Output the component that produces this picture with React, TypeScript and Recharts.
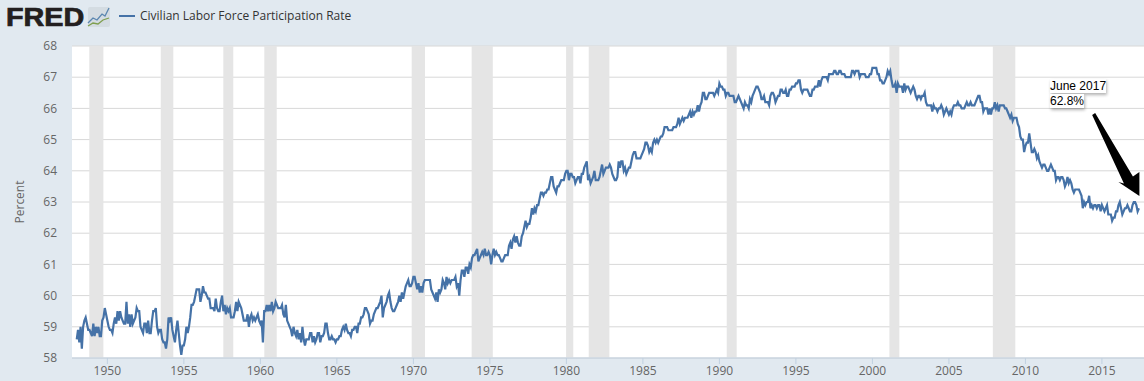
import { CartesianGrid, Line, LineChart, ReferenceArea, ReferenceLine, XAxis, YAxis } from "recharts";

// monthly rate, starting January 1948
const rate1940s = [
  58.6, 58.9, 58.5, 59.0, 58.3, 59.0, 59.2, 59.3, 59.1, 58.9, 58.9, 58.8,
  58.7, 59.1, 58.7, 59.0, 58.8, 59.0, 58.7, 58.7, 59.2, 59.3, 59.6, 59.4,
];
const rate1950s = [
  59.2, 59.0, 58.9, 58.9, 58.8, 59.1, 59.3, 59.1, 59.5, 59.2, 59.5, 59.3,
  59.2, 59.1, 59.1, 59.8, 59.1, 59.4, 59.0, 59.4, 59.1, 59.2, 59.3, 59.6,
  59.5, 59.5, 59.0, 58.9, 58.8, 59.1, 59.1, 58.8, 59.2, 58.8, 58.8, 59.2,
  59.5, 59.5, 59.6, 59.0, 58.8, 58.9, 58.9, 58.6, 58.5, 58.5, 58.3, 58.6,
  59.3, 59.2, 59.3, 58.9, 58.7, 58.5, 58.9, 59.2, 58.8, 58.4, 58.1, 58.4,
  58.4, 58.6, 59.0, 58.8, 59.0, 59.3, 59.7, 59.7, 59.8, 60.0, 60.2, 60.2,
  60.2, 59.8, 60.0, 60.3, 60.1, 60.1, 60.0, 59.9, 59.9, 59.6, 59.6, 59.6,
  59.5, 59.9, 59.6, 59.5, 59.5, 59.8, 60.0, 59.5, 59.7, 59.4, 59.6, 59.5,
  59.6, 59.3, 59.3, 59.3, 59.5, 59.8, 59.5, 59.8, 59.7, 59.6, 59.4, 59.2,
  59.2, 59.2, 59.4, 59.0, 59.3, 59.4, 59.2, 59.3, 59.2, 59.3, 59.4, 59.2,
];
const rate1960s = [
  59.1, 59.2, 58.5, 59.5, 59.5, 59.7, 59.5, 59.7, 59.5, 59.8, 59.5, 59.6,
  59.8, 59.7, 59.6, 59.6, 59.6, 59.7, 59.4, 59.3, 59.7, 59.2, 59.1, 59.0,
  58.9, 58.7, 59.0, 58.8, 58.7, 58.9, 58.6, 58.8, 58.5, 59.0, 58.6, 58.4,
  58.6, 58.6, 58.6, 58.8, 58.8, 58.5, 58.7, 58.5, 58.6, 58.8, 58.8, 58.5,
  58.7, 58.7, 58.8, 59.1, 59.1, 58.8, 58.6, 58.6, 58.7, 58.6, 58.6, 58.5,
  58.6, 58.6, 58.7, 58.7, 58.9, 59.0, 58.9, 59.1, 58.9, 58.8, 58.8, 58.7,
  58.9, 58.9, 59.0, 59.0, 58.8, 59.1, 59.1, 59.3, 59.3, 59.4, 59.6, 59.6,
  59.5, 59.4, 59.1, 59.2, 59.2, 59.4, 59.5, 59.6, 59.6, 59.7, 59.8, 60.0,
  59.3, 59.6, 59.7, 59.8, 60.0, 60.1, 59.8, 59.6, 59.5, 59.5, 59.6, 59.7,
  59.8, 60.0, 59.8, 60.1, 59.9, 60.1, 60.3, 60.4, 60.5, 60.3, 60.3, 60.4,
];
const rate1970s = [
  60.6, 60.6, 60.4, 60.2, 60.4, 60.1, 60.3, 60.1, 60.4, 60.5, 60.5, 60.5,
  60.5, 60.5, 60.2, 60.1, 60.0, 59.9, 60.1, 59.8, 60.2, 60.1, 60.2, 60.5,
  60.4, 60.2, 60.6, 60.4, 60.5, 60.4, 60.5, 60.5, 60.5, 60.6, 60.3, 60.4,
  60.0, 60.5, 60.8, 60.8, 60.6, 60.9, 60.9, 60.7, 61.0, 60.9, 61.2, 61.3,
  61.3, 61.4, 61.5, 61.1, 61.2, 61.3, 61.4, 61.3, 61.5, 61.3, 61.3, 61.4,
  61.3, 61.0, 61.3, 61.5, 61.3, 61.4, 61.3, 61.3, 61.2, 61.1, 61.1, 61.2,
  61.3, 61.3, 61.3, 61.6, 61.7, 61.5, 61.8, 61.9, 61.7, 61.9, 61.7, 61.6,
  61.6, 61.9, 62.0, 62.2, 62.4, 62.2, 62.3, 62.3, 62.5, 62.8, 62.6, 62.8,
  62.7, 62.9, 62.9, 63.1, 63.3, 63.3, 63.2, 63.3, 63.3, 63.4, 63.4, 63.6,
  63.8, 63.8, 63.5, 63.4, 63.3, 63.5, 63.5, 63.6, 63.7, 63.7, 63.7, 63.9,
];
const rate1980s = [
  64.0, 64.0, 63.7, 63.9, 63.9, 63.8, 63.8, 63.6, 63.7, 63.8, 63.8, 63.6,
  63.9, 63.9, 64.1, 64.2, 64.3, 63.7, 63.8, 63.6, 63.7, 63.8, 64.0, 63.7,
  63.7, 63.7, 63.8, 64.0, 64.2, 63.9, 64.0, 64.1, 64.1, 64.1, 64.2, 64.1,
  63.9, 63.8, 63.7, 63.7, 63.8, 64.3, 64.1, 64.3, 64.3, 64.0, 64.1, 63.9,
  64.0, 64.1, 64.1, 64.3, 64.5, 64.6, 64.6, 64.4, 64.4, 64.4, 64.4, 64.5,
  64.6, 64.7, 64.9, 64.9, 64.8, 64.6, 64.7, 64.6, 64.9, 65.0, 64.9, 65.0,
  64.9, 65.0, 65.1, 65.1, 65.2, 65.4, 65.4, 65.4, 65.3, 65.3, 65.3, 65.3,
  65.4, 65.4, 65.4, 65.5, 65.7, 65.5, 65.6, 65.7, 65.6, 65.7, 65.7, 65.7,
  65.8, 65.9, 65.7, 65.9, 65.8, 65.9, 65.9, 66.1, 65.9, 66.1, 66.2, 66.5,
  66.5, 66.3, 66.3, 66.4, 66.5, 66.5, 66.5, 66.5, 66.4, 66.5, 66.6, 66.5,
];
const rate1990s = [
  66.8, 66.7, 66.7, 66.6, 66.6, 66.4, 66.5, 66.5, 66.4, 66.4, 66.4, 66.4,
  66.2, 66.2, 66.3, 66.4, 66.3, 66.2, 66.1, 66.0, 66.2, 66.1, 66.1, 66.0,
  66.3, 66.2, 66.4, 66.5, 66.6, 66.7, 66.7, 66.6, 66.5, 66.3, 66.3, 66.4,
  66.2, 66.2, 66.2, 66.1, 66.4, 66.5, 66.5, 66.4, 66.2, 66.3, 66.4, 66.4,
  66.6, 66.6, 66.5, 66.5, 66.6, 66.4, 66.4, 66.6, 66.6, 66.7, 66.7, 66.7,
  66.8, 66.8, 66.9, 66.9, 66.6, 66.5, 66.6, 66.6, 66.6, 66.6, 66.5, 66.4,
  66.4, 66.6, 66.6, 66.7, 66.7, 66.7, 66.9, 66.7, 66.9, 67.0, 67.0, 67.0,
  67.0, 66.9, 67.1, 67.1, 67.1, 67.1, 67.2, 67.2, 67.1, 67.1, 67.2, 67.2,
  67.1, 67.1, 67.1, 67.0, 67.0, 67.0, 67.0, 67.0, 67.2, 67.2, 67.1, 67.2,
  67.2, 67.2, 67.0, 67.1, 67.1, 67.1, 67.1, 67.0, 67.0, 67.0, 67.1, 67.1,
];
const rate2000s = [
  67.3, 67.3, 67.3, 67.3, 67.1, 67.1, 66.9, 66.9, 66.8, 66.8, 66.9, 67.0,
  67.2, 67.1, 67.2, 66.9, 66.7, 66.7, 66.8, 66.5, 66.8, 66.7, 66.7, 66.7,
  66.5, 66.8, 66.6, 66.7, 66.7, 66.6, 66.5, 66.6, 66.7, 66.6, 66.4, 66.3,
  66.4, 66.4, 66.3, 66.4, 66.4, 66.5, 66.2, 66.1, 66.1, 66.1, 66.1, 65.9,
  66.1, 66.0, 66.0, 65.9, 66.0, 66.0, 66.1, 66.0, 65.8, 65.9, 66.0, 65.9,
  65.8, 65.9, 65.8, 66.0, 66.1, 66.1, 66.1, 66.2, 66.1, 66.1, 66.0, 66.0,
  66.0, 66.1, 66.2, 66.1, 66.1, 66.2, 66.1, 66.1, 66.1, 66.2, 66.3, 66.4,
  66.4, 66.2, 66.2, 65.9, 66.0, 66.0, 66.0, 65.8, 66.0, 65.8, 66.0, 66.0,
  66.2, 66.0, 66.1, 65.9, 66.1, 66.1, 66.1, 66.1, 66.0, 66.0, 65.9, 65.8,
  65.7, 65.8, 65.6, 65.7, 65.7, 65.7, 65.5, 65.4, 65.1, 65.0, 65.0, 64.6,
];
const rate2010s = [
  64.8, 64.9, 64.9, 65.2, 64.9, 64.6, 64.6, 64.7, 64.6, 64.4, 64.5, 64.3,
  64.2, 64.1, 64.2, 64.2, 64.1, 64.0, 64.0, 64.1, 64.2, 64.1, 64.0, 64.0,
  63.7, 63.8, 63.8, 63.7, 63.8, 63.8, 63.7, 63.5, 63.6, 63.8, 63.6, 63.7,
  63.6, 63.4, 63.3, 63.4, 63.4, 63.4, 63.4, 63.3, 63.2, 62.8, 63.0, 62.9,
  63.0, 63.0, 63.2, 62.8, 62.9, 62.8, 62.9, 62.9, 62.8, 62.9, 62.9, 62.7,
  62.9, 62.8, 62.7, 62.8, 62.9, 62.6, 62.6, 62.6, 62.4, 62.5, 62.5, 62.7,
  62.7, 62.9, 63.0, 62.8, 62.6, 62.7, 62.8, 62.8, 62.9, 62.8, 62.7, 62.7,
  62.9, 63.0, 63.0, 62.9, 62.7, 62.8,
];

const rates = [...rate1940s, ...rate1950s, ...rate1960s, ...rate1970s, ...rate1980s, ...rate1990s, ...rate2000s, ...rate2010s];
const series = rates.map((rate, i) => ({ year: 1948 + i / 12, rate }));

const recessions = [
  [1948.82, 1949.74],
  [1953.49, 1954.31],
  [1957.58, 1958.23],
  [1960.26, 1961.07],
  [1969.89, 1970.76],
  [1973.81, 1975.19],
  [1979.98, 1980.45],
  [1981.46, 1982.81],
  [1990.48, 1991.13],
  [2001.11, 2001.76],
  [2007.87, 2009.34],
];
const yearTicks = [1950, 1955, 1960, 1965, 1970, 1975, 1980, 1985, 1990, 1995, 2000, 2005, 2010, 2015];
const rateTicks = [58, 59, 60, 61, 62, 63, 64, 65, 66, 67, 68];

const SANS = "'Open Sans', sans-serif";
const AXIS_TEXT = { fill: "#666666", fontSize: 12, fontFamily: SANS };

// hand drawn arrow of the annotation, thin at the tail and wide at the head
function Arrow({ x1, y1, x2, y2 }: any) {
  if (x1 == null) return null;
  const pts = [
    [x1 - 1.5, y1 + 1],
    [x1 + 1.5, y1 - 1],
    [x2 - 6.5, y2 - 19.5],
    [x2, y2 - 24],
    [x2, y2],
    [x2 - 21, y2 - 14],
    [x2 - 15.5, y2 - 12.5],
  ];
  return <polygon points={pts.map((p) => p.join(",")).join(" ")} fill="#000" />;
}

function FredLogo() {
  return (
    <div style={{ position: "absolute", left: 0, top: 0 }}>
      <div
        style={{
          position: "absolute",
          left: 6,
          top: 2,
          fontFamily: "'Liberation Sans', sans-serif",
          fontWeight: 700,
          fontSize: 25,
          lineHeight: "30px",
          color: "#231f20",
          WebkitTextStroke: "0.7px #231f20",
          transform: "scaleX(1.15)",
          transformOrigin: "left",
        }}
      >
        FRED
      </div>
      <svg width={24} height={22} style={{ position: "absolute", left: 87, top: 6 }}>
        <rect x={1} y={1} width={22} height={20} rx={2} fill="#d4dce2" />
        <polyline points="1,17 6,12 10,14 15,8 18,10 22,2" fill="none" stroke="#5b86b0" strokeWidth={1.3} />
        <polyline points="1,20 6,17 11,18 16,14 22,12" fill="none" stroke="#7f9f4f" strokeWidth={1.3} />
      </svg>
    </div>
  );
}

function Note({ top, children }: { top: number; children: string }) {
  return (
    <div
      style={{
        position: "absolute",
        left: 1050,
        top,
        fontFamily: "'Liberation Sans', sans-serif",
        fontSize: 12,
        lineHeight: "14px",
        color: "#000",
        background: "#fff",
        boxShadow: "1px 2px 3px rgba(0,0,0,0.3)",
      }}
    >
      {children}
    </div>
  );
}

export default function App() {
  return (
    <div style={{ position: "fixed", left: 0, top: 0, width: 1144, height: 381, background: "#e1e9f0", overflow: "hidden" }}>
      <LineChart width={1144} height={381} data={series} margin={{ top: 46, right: 0, bottom: 0, left: 0 }}>
        <CartesianGrid vertical={false} stroke="#d8d8d8" fill="#ffffff" />
        <XAxis
          dataKey="year"
          type="number"
          domain={[1947.69, 2017.75]}
          ticks={yearTicks}
          interval={0}
          height={23}
          tick={AXIS_TEXT}
          tickSize={6}
          tickMargin={2}
          stroke="#c0d0e0"
        />
        <YAxis
          type="number"
          domain={[58, 68]}
          ticks={rateTicks}
          interval={0}
          width={72}
          axisLine={false}
          tickLine={false}
          tickSize={0}
          tickMargin={15}
          tick={AXIS_TEXT}
          label={{
            value: "Percent",
            angle: -90,
            position: "insideLeft",
            offset: 20,
            style: { ...AXIS_TEXT, textAnchor: "middle" },
          }}
        />
        {recessions.map(([from, to]) => (
          <ReferenceArea key={from} x1={from} x2={to} fill="#e5e5e5" fillOpacity={1} stroke="none" />
        ))}
        <ReferenceLine
          segment={[
            { x: 2014.46, y: 65.82 },
            { x: 2017.45, y: 63.19 },
          ]}
          shape={Arrow}
        />
        <Line dataKey="rate" stroke="#4572a7" strokeWidth={2.2} dot={false} isAnimationActive={false} />
      </LineChart>

      <FredLogo />
      <div style={{ position: "absolute", left: 119, top: 15, width: 16, height: 2, background: "#4572a7" }} />
      <div style={{ position: "absolute", left: 140, top: 7, fontFamily: SANS, fontSize: 12, lineHeight: "17px", color: "#333" }}>
        Civilian Labor Force Participation Rate
      </div>
      <Note top={79}>June 2017</Note>
      <Note top={94}>62.8%</Note>
    </div>
  );
}
